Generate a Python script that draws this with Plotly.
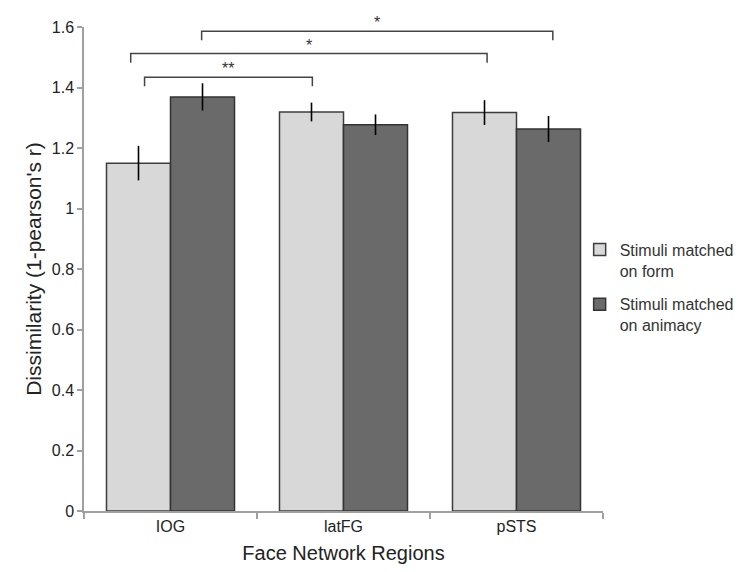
import plotly.graph_objects as go

categories = ["IOG", "latFG", "pSTS"]
form_values = [1.150, 1.319, 1.317]
form_err = [0.057, 0.031, 0.041]
animacy_values = [1.369, 1.277, 1.263]
animacy_err = [0.045, 0.034, 0.043]

# significance brackets: (x_start, x_end, y_level, label)
brackets = [
    (-0.15, 0.82, 1.434, "**"),
    (-0.23, 1.83, 1.512, "*"),
    (0.18, 2.21, 1.586, "*"),
]
bracket_drop = 0.03

FONT = "Liberation Sans, Arial, sans-serif"

fig = go.Figure()
fig.add_trace(go.Bar(
    x=categories, y=form_values, name="Stimuli matched<br>on form",
    legendgroup="a",
    marker=dict(color="#d8d8d8", line=dict(color="#3c3c3c", width=1.5)),
    error_y=dict(type="data", array=form_err, color="#000000", thickness=1.6, width=0),
))
fig.add_trace(go.Bar(
    x=categories, y=animacy_values, name="Stimuli matched<br>on animacy",
    legendgroup="b",
    marker=dict(color="#6a6a6a", line=dict(color="#333333", width=1.5)),
    error_y=dict(type="data", array=animacy_err, color="#000000", thickness=1.6, width=0),
))

for x0, x1, yl, lab in brackets:
    fig.add_shape(type="path",
                  path=f"M {x0},{yl - bracket_drop} L {x0},{yl} L {x1},{yl} L {x1},{yl - bracket_drop}",
                  xref="x", yref="y", line=dict(color="#444444", width=1.5))
    fig.add_annotation(x=(x0 + x1) / 2, y=yl, text=lab, showarrow=False,
                       xref="x", yref="y", yanchor="bottom", yshift=-2,
                       font=dict(family=FONT, size=16, color="#333333"))

fig.update_layout(
    width=742, height=572,
    margin=dict(l=76, r=137, t=11, b=69),
    paper_bgcolor="white", plot_bgcolor="white",
    barmode="group", bargap=0.26, bargroupgap=0,
    font=dict(family=FONT, size=16, color="#222222"),
    showlegend=True,
    legend=dict(x=0.955, xanchor="left", y=0.575, yanchor="top",
                font=dict(family=FONT, size=16, color="#333333"),
                valign="top", tracegroupgap=10, bgcolor="rgba(0,0,0,0)"),
    xaxis=dict(showline=True, linecolor="#a0a0a0", linewidth=1.5,
               ticks="outside", tickson="boundaries", ticklen=6, tickcolor="#a0a0a0",
               tickwidth=1.5, showgrid=False,
               title=dict(text="Face Network Regions", font=dict(size=20, color="#222222"), standoff=12),
               tickfont=dict(size=16, color="#222222")),
    yaxis=dict(range=[0, 1.6], dtick=0.2, showline=True, linecolor="#a0a0a0", linewidth=1.5,
               ticks="outside", ticklen=5, tickcolor="#a0a0a0", tickwidth=1.5,
               showgrid=False, zeroline=False,
               title=dict(text="Dissimilarity (1-pearson's r)", font=dict(size=21, color="#222222"), standoff=4),
               tickfont=dict(size=16, color="#222222")),
)

fig.write_html("out.html")
